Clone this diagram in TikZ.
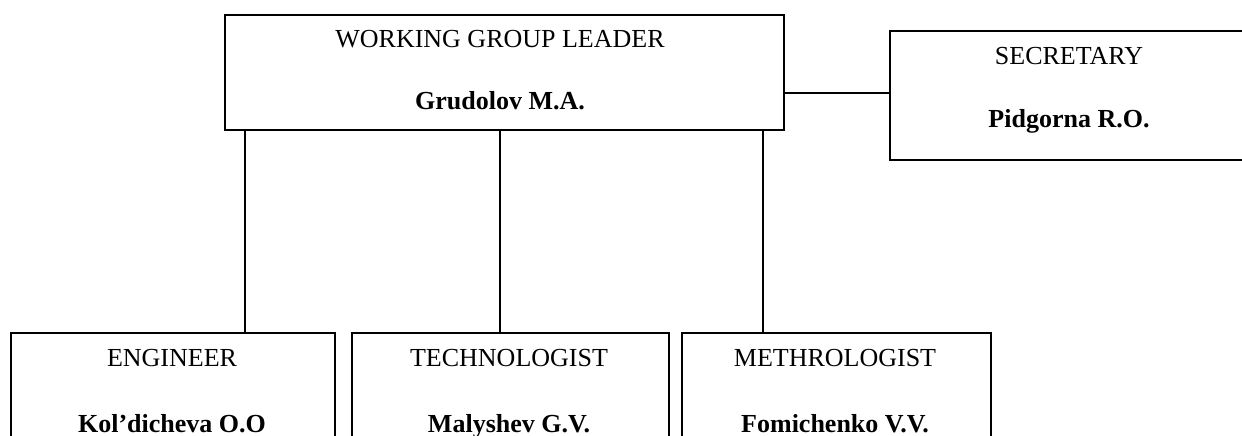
\documentclass[tikz,border=0pt]{standalone}
\usepackage{fontspec}
\setmainfont{Liberation Serif}
\begin{document}
\begin{tikzpicture}[x=1pt,y=-1pt,
  box/.style={draw=black,line width=1.8pt,inner sep=0pt,anchor=north west},
  lbl/.style={inner sep=0pt,anchor=base,font=\fontsize{26}{30}\selectfont},
  nm/.style={inner sep=0pt,anchor=base,font=\fontsize{26}{30}\selectfont\bfseries},
  link/.style={draw=black,line width=1.5pt}]
\useasboundingbox (0,0) rectangle (1242,436);
\clip (0,0) rectangle (1242,436);
\fill[white] (0,0) rectangle (1242,436);
% boxes
\node[box,minimum width=559pt,minimum height=115pt] (leader) at (224,14) {};
\node[box,minimum width=361pt,minimum height=129pt] (sec) at (889,30) {};
\node[box,minimum width=324pt,minimum height=140pt] (eng) at (10,332) {};
\node[box,minimum width=317pt,minimum height=140pt] (tech) at (351,332) {};
\node[box,minimum width=309pt,minimum height=140pt] (meth) at (681,332) {};
% texts
\node[lbl] (leadert) at (500,48) {WORKING GROUP LEADER};
\node[nm]  (leadern) at (500,110) {Grudolov M.A.};
\node[lbl] (sect) at (1069,65) {SECRETARY};
\node[nm]  (secn) at (1069,127) {Pidgorna R.O.};
\node[lbl] (engt) at (172,366) {ENGINEER};
\node[nm]  (engn) at (172,432) {Kol’dicheva O.O};
\node[lbl] (techt) at (509,366) {TECHNOLOGIST};
\node[nm]  (techn) at (509,432) {Malyshev G.V.};
\node[lbl] (metht) at (835,366) {METHROLOGIST};
\node[nm]  (methn) at (835,432) {Fomichenko V.V.};
% connectors
\coordinate (c1) at (245,0);
\coordinate (c2) at (500,0);
\coordinate (c3) at (763,0);
\coordinate (h) at (0,93);
\draw[link] (c1 |- leader.south) -- (c1 |- eng.north);
\draw[link] (c2 |- leader.south) -- (c2 |- tech.north);
\draw[link] (c3 |- leader.south) -- (c3 |- meth.north);
\draw[link] (leader.east |- h) -- (sec.west |- h);
\end{tikzpicture}
\end{document}
